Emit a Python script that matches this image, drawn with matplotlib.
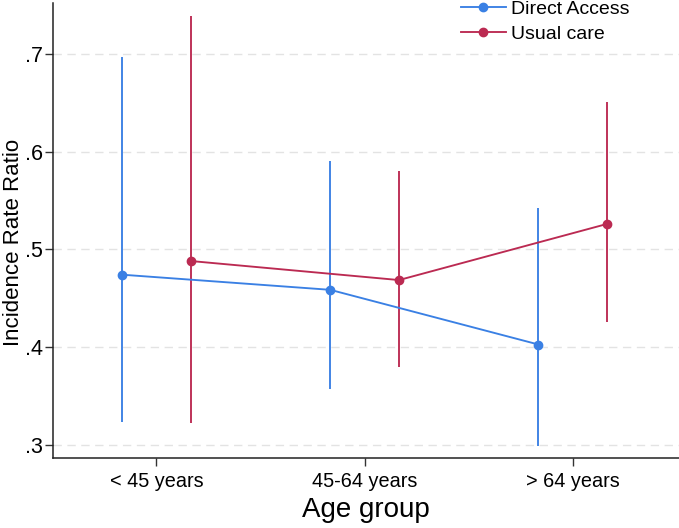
import matplotlib
matplotlib.use("Agg")
import matplotlib.pyplot as plt
import numpy as np

plt.rcParams['font.family'] = ['Liberation Sans', 'DejaVu Sans']

groups = ["< 45 years", "45-64 years", "> 64 years"]
series = ["Direct Access", "Usual care"]

# incidence rate ratio and 95% CI
da_irr = [0.474, 0.4585, 0.4025]
da_lo = [0.323, 0.3565, 0.299]
da_hi = [0.697, 0.590, 0.542]

uc_irr = [0.488, 0.4685, 0.526]
uc_lo = [0.322, 0.379, 0.426]
uc_hi = [0.739, 0.580, 0.651]

yticks = [0.3, 0.4, 0.5, 0.6, 0.7]
ytick_labels = [".3", ".4", ".5", ".6", ".7"]

c_blue = '#3a80e4'
c_red = '#bb2a52'

fig = plt.figure(figsize=(6.79, 5.28), dpi=100)
ax = fig.add_axes([0.078, 0.132, 0.922, 0.862])

x = np.arange(len(groups))
off = 0.165

for vals, lo, hi, col, lab, dx in [(da_irr, da_lo, da_hi, c_blue, series[0], -off),
                                   (uc_irr, uc_lo, uc_hi, c_red, series[1], off)]:
    ax.vlines(x + dx, lo, hi, color=col, lw=1.35, zorder=2)
    ax.plot(x + dx, vals, '-o', color=col, lw=1.35, ms=6, label=lab, zorder=3)

for yv in yticks:
    ax.axhline(yv, color='#e3e3e3', lw=1.0, ls=(0, (6, 4)), zorder=0)

ax.set_xlim(-0.497, 2.51)
ax.set_ylim(0.286, 0.752)
ax.set_xticks(x)
ax.set_xticklabels(groups, fontsize=14.3)
ax.set_yticks(yticks)
ax.set_yticklabels(ytick_labels, fontsize=15.5)
ax.tick_params(direction='out', length=6, width=1.0, color='#333333')
ax.tick_params(axis='x', pad=4)
ax.tick_params(axis='y', pad=1.5)
ax.set_ylabel("Incidence Rate Ratio", fontsize=16, va='baseline')
ax.yaxis.set_label_coords(-0.054, 0.474)
ax.set_xlabel("Age group", fontsize=20, labelpad=4)

for s in ['top', 'right']:
    ax.spines[s].set_visible(False)
for s in ['left', 'bottom']:
    ax.spines[s].set_linewidth(1.1)
    ax.spines[s].set_color('#222222')

ax.legend(loc='upper left', bbox_to_anchor=(461 / 679, 1.0), bbox_transform=fig.transFigure,
          frameon=False, fontsize=14, borderpad=0, borderaxespad=0, handlelength=2.3,
          handletextpad=0.28, labelspacing=0.4)

fig.savefig("out.png", dpi=100)
